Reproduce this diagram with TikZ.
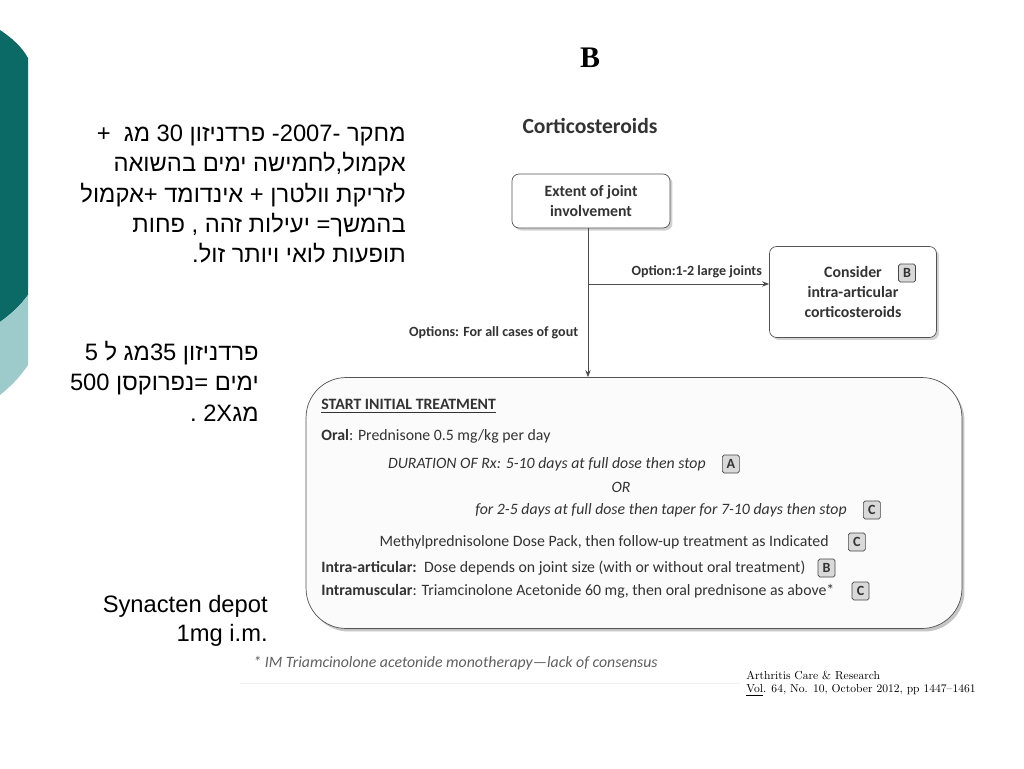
\documentclass[tikz,border=0pt]{standalone}
\usepackage{fontspec}
\setmainfont{Carlito}
\newfontfamily\hebfont[Script=Hebrew]{Liberation Sans}
\newfontfamily\arialfont{Liberation Sans}
\newfontfamily\titlefont{Liberation Serif}
\newfontfamily\citefont{lmroman10-regular.otf}
\TeXXeTstate=1
\usepackage{tikz}
\usetikzlibrary{arrows.meta, positioning, shadows}
\definecolor{tealdark}{HTML}{0B6A66}
\definecolor{teallight}{HTML}{9DCBCB}
\definecolor{ink}{HTML}{333333}

\begin{document}
\begin{tikzpicture}[
  x=0.02cm, y=-0.02cm,
  box/.style={rectangle, draw=gray!65!black, rounded corners=4pt, fill=white,
              align=center, text=ink, font=\fontsize{9}{11.5}\selectfont\bfseries,
              drop shadow={shadow xshift=0.05cm, shadow yshift=-0.05cm, opacity=0.35}},
  bigbox/.style={rectangle, draw=gray!65!black, rounded corners=0.8cm, fill=gray!3,
                 minimum width=13.12cm, minimum height=5.02cm,
                 drop shadow={shadow xshift=0.05cm, shadow yshift=-0.06cm, opacity=0.45}},
  badge/.style={rectangle, draw=gray!55!black, fill=gray!30, rounded corners=1pt,
                minimum width=0.34cm, minimum height=0.36cm, inner sep=0pt,
                text=ink, font=\fontsize{8}{8}\selectfont\bfseries},
  txt/.style={inner sep=0pt, text=ink, font=\fontsize{9}{11}\selectfont},
  lbl/.style={text=ink, font=\fontsize{8}{10}\selectfont\bfseries},
  heb/.style={inner sep=0pt, align=right, font=\hebfont\fontsize{13.5}{17.3}\selectfont},
  arr/.style={-{Stealth[length=4pt, width=3pt]}, draw=gray!60!black, line width=0.5pt}
]
\fill[white] (0,0) rectangle (1024,768);
\useasboundingbox (0,0) rectangle (1024,768);

% side band
\fill[tealdark] (0,30) .. controls (12,38) and (22,47) .. (28,58) -- (28,295)
  .. controls (20,306) and (10,315) .. (0,322) -- cycle;
\fill[teallight] (0,322) .. controls (10,315) and (20,306) .. (28,295) -- (28,365)
  .. controls (20,377) and (10,387) .. (0,395) -- cycle;

% hebrew notes
\node[heb, anchor=east] (study) at (406,194)
  {\beginR מחקר -2007- פרדניזון 30 מג \ +\endR\\
   \beginR אקמול,לחמישה ימים בהשואה\endR\\
   \beginR לזריקת וולטרן + אינדומד +אקמול\endR\\
   \beginR בהמשך= יעילות זהה , פחות\endR\\
   \beginR תופעות לואי ויותר זול.\endR};
\node[heb, anchor=east] (dose) at (259,381)
  {\beginR פרדניזון 35מג ל 5\endR\\
   \beginR ימים =נפרוקסן 500\endR\\
   \beginR מג2X .\endR};
\node[heb, anchor=east, font=\arialfont\fontsize{13.5}{16.5}\selectfont] (depot) at (268,621)
  {Synacten depot\\1mg i.m.};

% flow chart
\node[font=\titlefont\fontsize{17}{17}\selectfont\bfseries] (panel) at (590,58) {B};
\node[text=ink, font=\fontsize{12.3}{14}\selectfont\bfseries] (title) at (590,126) {Corticosteroids};
\node[box, minimum width=3.16cm, minimum height=1.08cm] (extent) at (591,201)
  {Extent of joint\\involvement};
\node[box, minimum width=3.34cm, minimum height=1.82cm] (consider) at (853,292)
  {Consider\\intra-articular\\corticosteroids};
\node[badge] (bB1) at (907,273) {B};
\node[bigbox] (start) at (634,503) {};

\coordinate (fork) at (588,284);
\draw[arr] (extent.south -| fork) -- node[lbl, left, pos=0.7, xshift=-2pt]
  {Options: For all cases of gout} (fork |- start.north);
\draw[arr] (fork) -- node[lbl, above, pos=0.6] {Option:1-2 large joints} (fork -| consider.west);

% treatment lines
\node[txt, anchor=west] (hdr) at (321,406) {\bfseries\underline{START INITIAL TREATMENT}};
\node[txt, anchor=west] (oral) at (321,436) {\textbf{Oral}: Prednisone 0.5 mg/kg per day};
\node[txt, anchor=east] (dur) at (706,464) {\itshape DURATION OF Rx: 5-10 days at full dose then stop};
\node[badge, right=0.32cm of dur] (bA) {A};
\node[txt] (or) at (621,487) {\itshape OR};
\node[txt, anchor=east] (taper) at (847,510) {\itshape for 2-5 days at full dose then taper for 7-10 days then stop};
\node[badge, right=0.32cm of taper] (bC1) {C};
\node[txt, anchor=east] (pack) at (829,542) {Methylprednisolone Dose Pack, then follow-up treatment as Indicated};
\node[badge, right=0.38cm of pack] (bC2) {C};
\node[txt, anchor=west] (ia) at (321,568) {\textbf{Intra-articular:}\, Dose depends on joint size (with or without oral treatment)};
\node[badge, right=0.24cm of ia] (bB2) {B};
\node[txt, anchor=west] (im) at (321,591) {\textbf{Intramuscular}: Triamcinolone Acetonide 60 mg, then oral prednisone as above*};
\node[badge, right=0.34cm of im] (bC3) {C};

\node[txt, anchor=west, text=gray!75!black] (foot) at (253,663)
  {\itshape * IM Triamcinolone acetonide monotherapy—lack of consensus};
\draw[gray!12] (240,683) -- (740,683);

\node[anchor=north west, inner sep=0pt, align=left, font=\citefont\fontsize{6.6}{7.5}\selectfont] (cite) at (746,671)
  {Arthritis Care \& Research\\\underline{Vol}. 64, No. 10, October 2012, pp 1447–1461};
\end{tikzpicture}
\end{document}
